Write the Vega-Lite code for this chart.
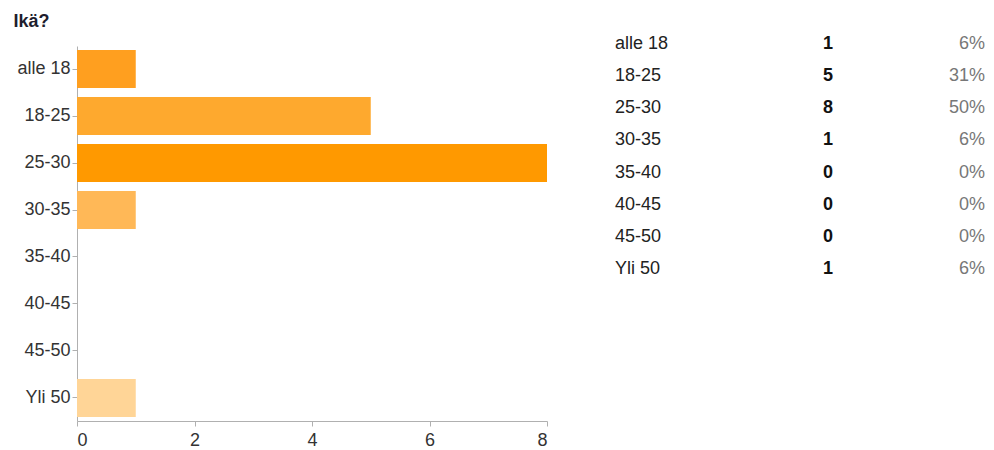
{
  "$schema": "https://vega.github.io/schema/vega-lite/v6.json",
  "padding": {"left": 13, "top": 12, "right": 5, "bottom": 5},
  "background": "white",
  "config": {
    "view": {"stroke": null},
    "font": "Liberation Sans",
    "concat": {"spacing": 67}
  },
  "data": {
    "values": [
      {"group": "alle 18", "count": 1, "pct": "6%"},
      {"group": "18-25", "count": 5, "pct": "31%"},
      {"group": "25-30", "count": 8, "pct": "50%"},
      {"group": "30-35", "count": 1, "pct": "6%"},
      {"group": "35-40", "count": 0, "pct": "0%"},
      {"group": "40-45", "count": 0, "pct": "0%"},
      {"group": "45-50", "count": 0, "pct": "0%"},
      {"group": "Yli 50", "count": 1, "pct": "6%"}
    ]
  },
  "hconcat": [
    {
      "width": 470,
      "height": 375,
      "mark": {"type": "bar"},
      "encoding": {
        "y": {
          "field": "group",
          "type": "nominal",
          "sort": null,
          "scale": {"paddingInner": 0.19, "paddingOuter": 0.085},
          "axis": {
            "title": "Ikä?",
            "titleAngle": 0,
            "titleAlign": "left",
            "titleBaseline": "top",
            "titleAnchor": null,
            "titleX": -64,
            "titleY": -34,
            "titleFontSize": 18,
            "titleFontWeight": "bold",
            "titleColor": "#1e1e2e",
            "labelFontSize": 18,
            "labelColor": "#333333",
            "domainColor": "#b0b0b0",
            "tickColor": "#b0b0b0",
            "tickSize": 5,
            "labelPadding": 2
          }
        },
        "x": {
          "field": "count",
          "type": "quantitative",
          "scale": {"domain": [0, 8]},
          "axis": {
            "title": null,
            "values": [0, 2, 4, 6, 8],
            "grid": false,
            "labelFontSize": 18,
            "labelColor": "#333333",
            "domainColor": "#b0b0b0",
            "tickColor": "#b0b0b0",
            "tickSize": 5,
            "labelPadding": 5
          }
        },
        "color": {
          "field": "group",
          "type": "nominal",
          "scale": {
            "domain": ["alle 18", "18-25", "25-30", "30-35", "35-40", "40-45", "45-50", "Yli 50"],
            "range": ["#ff9f1f", "#fea92e", "#ff9900", "#ffb857", "#ffc471", "#ffca80", "#ffd08a", "#ffd597"]
          },
          "legend": null
        }
      }
    },
    {
      "width": 370,
      "height": 225,
      "encoding": {
        "y": {
          "field": "group",
          "type": "nominal",
          "sort": null,
          "scale": {"type": "point", "padding": 0, "range": [-2, 223]},
          "axis": null
        }
      },
      "layer": [
        {
          "mark": {"type": "text", "align": "left", "baseline": "middle", "fontSize": 18, "color": "#222222"},
          "encoding": {
            "x": {"datum": 0, "type": "quantitative", "scale": {"domain": [0, 100]}, "axis": null},
            "text": {"field": "group"}
          }
        },
        {
          "mark": {"type": "text", "align": "center", "baseline": "middle", "fontSize": 18, "fontWeight": "bold", "color": "#111111"},
          "encoding": {
            "x": {"datum": 57.6, "type": "quantitative", "scale": {"domain": [0, 100]}, "axis": null},
            "text": {"field": "count"}
          }
        },
        {
          "mark": {"type": "text", "align": "right", "baseline": "middle", "fontSize": 18, "color": "#777777"},
          "encoding": {
            "x": {"datum": 100, "type": "quantitative", "scale": {"domain": [0, 100]}, "axis": null},
            "text": {"field": "pct"}
          }
        }
      ]
    }
  ]
}
